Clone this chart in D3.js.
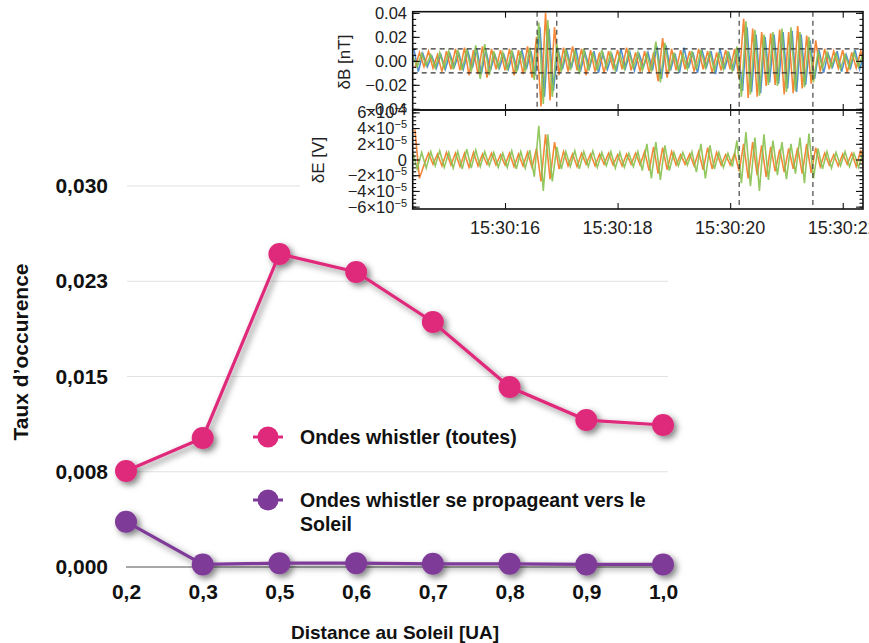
<!DOCTYPE html>
<html>
<head>
<meta charset="utf-8">
<script src="https://cdn.jsdelivr.net/npm/d3@7"></script>
<style>
  body { margin: 0; background: #fff; }
  svg { display: block; }
</style>
</head>
<body>
<svg id="chart" width="869" height="643"></svg>
<script>
// main chart data
const distances = ["0,2", "0,3", "0,5", "0,6", "0,7", "0,8", "0,9", "1,0"];
const allWhistlers = [0.00756, 0.01016, 0.02465, 0.02323, 0.01929, 0.01417, 0.01157, 0.01118];
const sunwardWhistlers = [0.00357, 0.0002, 0.0003, 0.0003, 0.00025, 0.00025, 0.0002, 0.0002];
const yTickValues = [0, 0.0075, 0.015, 0.0225, 0.03];
const yTickLabels = ["0,000", "0,008", "0,015", "0,023", "0,030"];
const seriesNames = ["Ondes whistler (toutes)", "Ondes whistler se propageant vers le|Soleil"];

// inset waveform samples (seconds after 15:30:00, one sample every 0.08 s;
// the orange component is sampled half a step later)
const waveStart = 14.36;
const waveStep = 0.08;
// dB in units of 0.001 nT
const dBgreen = [4,-5,6,-4,5,-6,7,-6,8,-7, 9,-8,10,-9,13,-15,14,-12,8,-6, 7,-8,9,-10,8,-9,11,-16,32,-36,
  34,-30,14,-9,10,-8,9,-11,10,-8, 7,-8,9,-6,7,-8,6,-7,8,-6, 7,-8,6,-9,16,-18,15,-9,7,-8,
  6,-7,8,-7,9,-6,7,-8,6,-7, 8,-9,12,-30,33,-28,26,-29,22,-20, 24,-21,27,-26,28,-25,24,-22,20,-18,
  8,-6,7,-5,6,-7,5,-6,7,-5,6];
const dBorange = [-6,7,-5,8,-6,5,-9,8,-7,10, -8,11,-12,9,-11,12,-14,10,-7,9, -8,10,-12,9,-11,12,-14,20,-38,40,
  -33,28,-12,11,-9,12,-8,10,-12,9, -9,7,-10,8,-6,9,-7,11,-8,7, -9,8,-10,7,-17,19,-14,10,-8,9,
  -7,8,-9,10,-7,8,-10,7,-8,9, -7,10,-15,35,-31,27,-30,24,-21,23, -20,26,-28,24,-27,29,-23,21,-19,17,
  -9,10,-7,8,-6,9,-10,7,-6,8,-5];
const dBblue = [10,-9,6,-5,4,-6,5,-7,6,-5, 6,-7,8,-6,10,-11,9,-8,5,-6, 5,-7,6,-8,9,-7,8,-12,28,-30,
  27,-25,10,-7,8,-6,10,-9,7,-6, 8,-10,6,-7,5,-9,10,-6,7,-8, 6,-5,7,-8,12,-15,13,-8,6,-10,
  11,-6,7,-10,9,-5,8,-11,10,-7, 6,-8,10,-25,28,-26,22,-27,20,-18, 22,-19,24,-23,25,-26,22,-20,17,-15,
  9,-10,6,-5,8,-9,5,-6,9,-7,5];
// dE in units of 1e-6 V
const dEgreen = [10,-12,9,-11,10,-8,11,-10,9,-11, 10,-12,13,-11,12,-9,10,-8,9,-10, 8,-10,11,-12,10,-11,12,-22,43,-40,
  32,-28,16,-12,10,-9,11,-12,10,-9, 11,-10,9,-8,10,-11,9,-10,8,-9, 10,-14,20,-24,22,-26,18,-14,9,-8,
  9,-7,10,-16,20,-24,18,-12,9,-10, 8,-9,24,-30,35,-34,28,-40,32,-26, 24,-20,22,-25,20,-18,28,-30,33,-24,
  14,-12,10,-11,9,-8,10,-9,8,-10,9];
const dEorange = [38,-24,-7,8,-6,7,-8,9,-7,8, -9,8,-10,9,-8,7,-6,8,-7,6, -7,8,-9,7,-8,9,-10,14,-28,32,
  -25,22,-12,10,-8,7,-9,8,-6,7, -8,7,-6,8,-7,6,-8,7,-6,8, -7,10,-14,16,-18,15,-13,10,-7,6,
  -6,7,-8,10,-13,15,-12,9,-7,6, -7,8,-15,20,-24,22,-20,18,-22,16, -15,13,-16,14,-12,15,-18,20,-17,15,
  -9,8,-7,6,-8,7,-6,8,-9,12,-30];
const dBticks = [0.04, 0.02, 0, -0.02, -0.04];
const dBtickLabels = ["0.04", "0.02", "0.00", "\u22120.02", "\u22120.04"];
const dEticks = [6e-5, 4e-5, 2e-5, 0, -2e-5, -4e-5, -6e-5];
const dEtickLabels = ["6", "4", "2", "0", "\u22122", "\u22124", "\u22126"];
const timeTicks = [16, 18, 20, 22];
const timeLabels = ["15:30:16", "15:30:18", "15:30:20", "15:30:22"];
const markerTimesB = [16.57, 16.92, 20.16, 21.47];
const markerTimesE = [20.16, 21.47];

const pink = "#df2a7c";
const purple = "#7e3a98";
const mainFont = "'Liberation Sans', Arial, sans-serif";

const svg = d3.select("#chart");
svg.append("rect").attr("width", 869).attr("height", 643).attr("fill", "#fff");

const filter = svg.append("defs").append("filter")
  .attr("id", "shadow").attr("x", "-50%").attr("y", "-50%")
  .attr("width", "200%").attr("height", "200%");
filter.append("feDropShadow")
  .attr("dx", 3).attr("dy", 3).attr("stdDeviation", 3)
  .attr("flood-color", "#000").attr("flood-opacity", 0.5);

const x = d3.scalePoint().domain(distances).range([126, 663]);
const y = d3.scaleLinear().domain([0, 0.03]).range([567, 186]);

// grid
svg.append("g").selectAll("line")
  .data(yTickValues.slice(1))
  .join("line")
  .attr("x1", 127).attr("x2", 668)
  .attr("y1", d => y(d)).attr("y2", d => y(d))
  .attr("stroke", "#e2e2e2").attr("stroke-width", 1.2);

svg.append("line")
  .attr("x1", 126).attr("x2", 668)
  .attr("y1", y(0)).attr("y2", y(0))
  .attr("stroke", "#8a8a8a").attr("stroke-width", 1.5);

const yAxis = svg.append("g")
  .attr("transform", "translate(127,0)")
  .call(d3.axisLeft(y).tickValues(yTickValues)
    .tickFormat((d, i) => yTickLabels[i]).tickSize(0).tickPadding(19));
yAxis.select(".domain").remove();
yAxis.selectAll("text")
  .attr("font-family", mainFont).attr("font-weight", "bold")
  .attr("font-size", 21).attr("fill", "#111");

const xAxis = svg.append("g")
  .attr("transform", `translate(0,${y(0)})`)
  .call(d3.axisBottom(x).tickSize(0).tickPadding(17));
xAxis.select(".domain").remove();
xAxis.selectAll("text")
  .attr("font-family", mainFont).attr("font-weight", "bold")
  .attr("font-size", 21).attr("fill", "#111");

svg.append("text")
  .attr("transform", "translate(28,352) rotate(-90)")
  .attr("text-anchor", "middle")
  .attr("font-family", mainFont).attr("font-weight", "bold")
  .attr("font-size", 21).attr("fill", "#111")
  .text("Taux d\u2019occurence");

svg.append("text")
  .attr("x", 395).attr("y", 639)
  .attr("text-anchor", "middle")
  .attr("font-family", mainFont).attr("font-weight", "bold")
  .attr("font-size", 19).attr("fill", "#111")
  .text("Distance au Soleil [UA]");

const line = d3.line().x((d, i) => x(distances[i])).y(d => y(d));

function drawSeries(values, color) {
  const g = svg.append("g").attr("filter", "url(#shadow)");
  g.append("path").datum(values)
    .attr("d", line).attr("fill", "none")
    .attr("stroke", color).attr("stroke-width", 3.2);
  g.selectAll("circle").data(values).join("circle")
    .attr("cx", (d, i) => x(distances[i])).attr("cy", d => y(d))
    .attr("r", 11).attr("fill", color);
}
drawSeries(sunwardWhistlers, purple);
drawSeries(allWhistlers, pink);

// legend
const legendRows = [
  { name: seriesNames[0], color: pink, y: 437 },
  { name: seriesNames[1], color: purple, y: 500 }
];
legendRows.forEach(r => {
  const g = svg.append("g").attr("transform", `translate(268,${r.y})`);
  g.append("line").attr("x1", -15).attr("x2", 15)
    .attr("stroke", r.color).attr("stroke-width", 3);
  g.append("circle").attr("r", 10.5).attr("fill", r.color);
  const t = g.append("text")
    .attr("x", 32).attr("y", 7)
    .attr("font-family", mainFont).attr("font-weight", "bold")
    .attr("font-size", 19.5).attr("fill", "#111");
  r.name.split("|").forEach((s, k) => {
    t.append("tspan").attr("x", 32).attr("dy", k === 0 ? 0 : 24).text(s);
  });
});

// ---------- inset waveform figure ----------
const inset = svg.append("g");
inset.append("rect").attr("x", 300).attr("y", 0).attr("width", 569).attr("height", 240).attr("fill", "#fff");

const insetFont = "'Liberation Sans', Arial, sans-serif";
const tx = d3.scaleLinear().domain([14.36, 22.36]).range([412.7, 863]);
const yB = d3.scaleLinear().domain([-0.041, 0.041]).range([110, 11.7]);
const yE = d3.scaleLinear().domain([-6.3e-5, 6.3e-5]).range([209, 110]);

const defs = svg.select("defs");
defs.append("clipPath").attr("id", "clipB").append("rect")
  .attr("x", tx.range()[0]).attr("y", yB.range()[1])
  .attr("width", tx.range()[1] - tx.range()[0]).attr("height", yB.range()[0] - yB.range()[1]);
defs.append("clipPath").attr("id", "clipE").append("rect")
  .attr("x", tx.range()[0]).attr("y", yE.range()[1])
  .attr("width", tx.range()[1] - tx.range()[0]).attr("height", yE.range()[0] - yE.range()[1]);

function wave(values, unit, ys, shift) {
  return d3.line()
    .x((d, i) => tx(waveStart + (i + shift) * waveStep))
    .y(d => ys(d * unit))(values);
}

const gB = inset.append("g").attr("clip-path", "url(#clipB)");
[[dBblue, "#3c82cf", 0.25], [dBorange, "#f47a22", 0.5], [dBgreen, "#86c24e", 0]].forEach(([vals, c, s]) => {
  gB.append("path").attr("d", wave(vals, 0.001, yB, s))
    .attr("fill", "none").attr("stroke", c).attr("stroke-width", 1.6).attr("stroke-opacity", 0.9);
});
const gE = inset.append("g").attr("clip-path", "url(#clipE)");
[[dEorange, "#f47a22", 0.5], [dEgreen, "#86c24e", 0]].forEach(([vals, c, s]) => {
  gE.append("path").attr("d", wave(vals, 1e-6, yE, s))
    .attr("fill", "none").attr("stroke", c).attr("stroke-width", 1.6).attr("stroke-opacity", 0.9);
});

// dashed guides
gB.selectAll("line.h").data([0.01, -0.01]).join("line").attr("class", "h")
  .attr("x1", tx.range()[0]).attr("x2", tx.range()[1])
  .attr("y1", d => yB(d)).attr("y2", d => yB(d))
  .attr("stroke", "#333").attr("stroke-width", 1.1).attr("stroke-dasharray", "5,4");
gB.selectAll("line.v").data(markerTimesB).join("line").attr("class", "v")
  .attr("x1", d => tx(d)).attr("x2", d => tx(d))
  .attr("y1", yB.range()[1]).attr("y2", yB.range()[0])
  .attr("stroke", "#333").attr("stroke-width", 1.1).attr("stroke-dasharray", "5,4");
gE.selectAll("line.v").data(markerTimesE).join("line").attr("class", "v")
  .attr("x1", d => tx(d)).attr("x2", d => tx(d))
  .attr("y1", yE.range()[1]).attr("y2", yE.range()[0])
  .attr("stroke", "#333").attr("stroke-width", 1.1).attr("stroke-dasharray", "5,4");

// frames and ticks
function panelTicks(ys, majors, minorStep) {
  const [lo, hi] = ys.domain();
  const minors = d3.range(Math.ceil(lo / minorStep) * minorStep, hi, minorStep);
  const x0 = tx.range()[0], x1 = tx.range()[1];
  const g = inset.append("g");
  g.append("g").attr("transform", `translate(${x0},0)`)
    .call(d3.axisLeft(ys).tickValues(minors).tickSize(-3.5).tickFormat(""));
  g.append("g").attr("transform", `translate(${x0},0)`)
    .call(d3.axisLeft(ys).tickValues(majors).tickSize(-7).tickFormat(""));
  g.append("g").attr("transform", `translate(${x1},0)`)
    .call(d3.axisRight(ys).tickValues(minors).tickSize(-3.5).tickFormat(""));
  g.append("g").attr("transform", `translate(${x1},0)`)
    .call(d3.axisRight(ys).tickValues(majors).tickSize(-7).tickFormat(""));
  g.append("g").attr("transform", `translate(0,${ys.range()[1]})`)
    .call(d3.axisTop(tx).tickValues(timeTicks).tickSize(-6).tickFormat(""));
  g.append("g").attr("transform", `translate(0,${ys.range()[0]})`)
    .call(d3.axisBottom(tx).tickValues(timeTicks).tickSize(-6).tickFormat(""));
  g.selectAll(".domain").remove();
  g.selectAll("line").attr("stroke", "#111").attr("stroke-width", 1.1);
  inset.append("rect")
    .attr("x", x0).attr("y", ys.range()[1])
    .attr("width", x1 - x0).attr("height", ys.range()[0] - ys.range()[1])
    .attr("fill", "none").attr("stroke", "#111").attr("stroke-width", 1.6);
}
panelTicks(yB, dBticks, 0.005);
panelTicks(yE, dEticks, 0.5e-5);

// inset labels
inset.selectAll("text.bt").data(dBticks).join("text").attr("class", "bt")
  .attr("x", 407).attr("y", d => yB(d) + 6)
  .attr("text-anchor", "end")
  .attr("font-family", insetFont).attr("font-size", 16.5).attr("fill", "#222")
  .text((d, i) => dBtickLabels[i]);

dEticks.forEach((d, i) => {
  const t = inset.append("text")
    .attr("x", 407).attr("y", yE(d) + 6)
    .attr("text-anchor", "end")
    .attr("font-family", insetFont).attr("font-size", 16.5).attr("fill", "#222");
  if (d === 0) {
    t.text("0");
  } else {
    t.append("tspan").text(dEtickLabels[i] + "\u00d710");
    t.append("tspan").attr("dy", -6).attr("font-size", 11).text("\u22125");
  }
});

inset.append("text")
  .attr("transform", "translate(350,62) rotate(-90)")
  .attr("text-anchor", "middle")
  .attr("font-family", insetFont).attr("font-size", 17).attr("fill", "#222")
  .text("\u03b4B  [nT]");
inset.append("text")
  .attr("transform", "translate(324,160) rotate(-90)")
  .attr("text-anchor", "middle")
  .attr("font-family", insetFont).attr("font-size", 17).attr("fill", "#222")
  .text("\u03b4E  [V]");

inset.selectAll("text.tt").data(timeTicks).join("text").attr("class", "tt")
  .attr("x", d => tx(d)).attr("y", 234)
  .attr("text-anchor", "middle")
  .attr("font-family", insetFont).attr("font-size", 18).attr("fill", "#222")
  .text((d, i) => timeLabels[i]);
</script>
</body>
</html>
